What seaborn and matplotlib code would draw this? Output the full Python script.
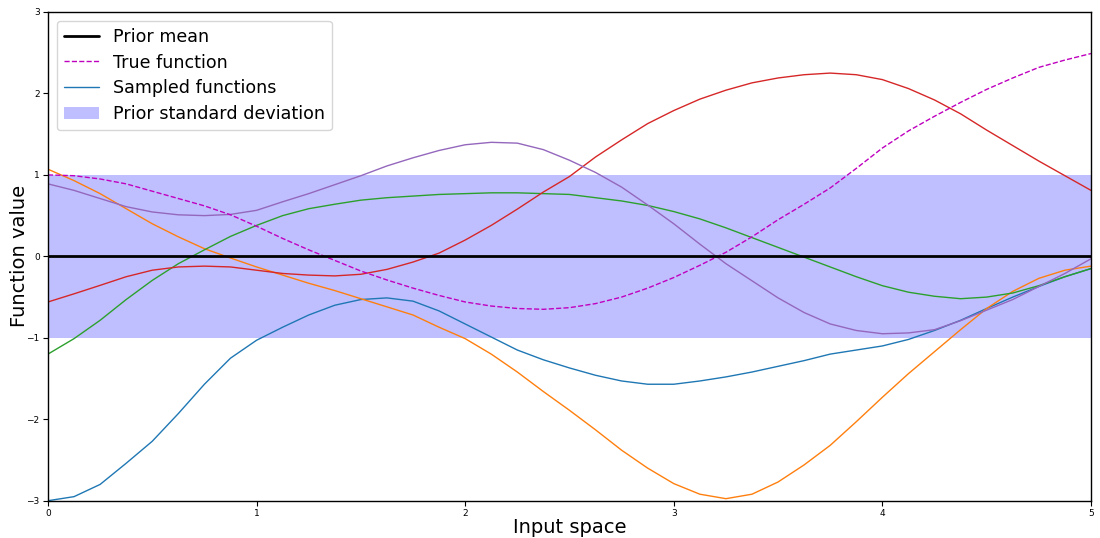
import numpy as np
import pandas as pd
import matplotlib
matplotlib.use("Agg")
import matplotlib.pyplot as plt
import seaborn as sns
from matplotlib.lines import Line2D
from matplotlib.patches import Patch

x_vals = [0.0, 0.125, 0.25, 0.375, 0.5, 0.625, 0.75, 0.875, 1.0, 1.125,
          1.25, 1.375, 1.5, 1.625, 1.75, 1.875, 2.0, 2.125, 2.25, 2.375,
          2.5, 2.625, 2.75, 2.875, 3.0, 3.125, 3.25, 3.375, 3.5, 3.625,
          3.75, 3.875, 4.0, 4.125, 4.25, 4.375, 4.5, 4.625, 4.75, 4.875, 5.0]

true_function = [1.0, 0.99, 0.95, 0.89, 0.80, 0.71, 0.62, 0.51, 0.37, 0.22,
                 0.08, -0.05, -0.18, -0.29, -0.39, -0.48, -0.56, -0.61, -0.64, -0.65,
                 -0.63, -0.58, -0.50, -0.39, -0.26, -0.11, 0.05, 0.24, 0.45, 0.64,
                 0.84, 1.08, 1.33, 1.54, 1.72, 1.89, 2.05, 2.19, 2.32, 2.41, 2.49]

sample_1 = [-3.0, -2.95, -2.80, -2.54, -2.27, -1.93, -1.57, -1.25, -1.03, -0.87,
            -0.72, -0.60, -0.53, -0.51, -0.55, -0.67, -0.83, -0.99, -1.15, -1.27,
            -1.37, -1.46, -1.53, -1.57, -1.57, -1.53, -1.48, -1.42, -1.35, -1.28,
            -1.20, -1.15, -1.10, -1.02, -0.91, -0.785, -0.64, -0.50, -0.37, -0.25, -0.15]
sample_2 = [1.07, 0.93, 0.77, 0.585, 0.40, 0.24, 0.094, -0.02, -0.13, -0.23,
            -0.33, -0.42, -0.52, -0.62, -0.72, -0.87, -1.01, -1.20, -1.42, -1.66,
            -1.89, -2.13, -2.38, -2.60, -2.79, -2.92, -2.975, -2.92, -2.77, -2.56,
            -2.32, -2.03, -1.73, -1.44, -1.17, -0.90, -0.64, -0.43, -0.27, -0.17, -0.12]
sample_3 = [-1.20, -1.01, -0.785, -0.53, -0.295, -0.09, 0.08, 0.245, 0.38, 0.50,
            0.585, 0.64, 0.69, 0.72, 0.74, 0.76, 0.77, 0.78, 0.78, 0.77,
            0.76, 0.72, 0.68, 0.625, 0.55, 0.46, 0.35, 0.23, 0.11, -0.01,
            -0.13, -0.25, -0.36, -0.44, -0.49, -0.52, -0.50, -0.45, -0.36, -0.25, -0.15]
sample_4 = [-0.56, -0.46, -0.356, -0.25, -0.17, -0.13, -0.12, -0.13, -0.17, -0.21,
            -0.23, -0.24, -0.22, -0.16, -0.07, 0.04, 0.20, 0.38, 0.58, 0.79,
            0.98, 1.22, 1.43, 1.63, 1.79, 1.93, 2.04, 2.13, 2.19, 2.23,
            2.25, 2.23, 2.17, 2.06, 1.92, 1.75, 1.55, 1.36, 1.17, 0.99, 0.81]
sample_5 = [0.89, 0.81, 0.71, 0.61, 0.545, 0.51, 0.50, 0.515, 0.565, 0.67,
            0.77, 0.88, 0.99, 1.11, 1.21, 1.30, 1.37, 1.40, 1.39, 1.31,
            1.18, 1.03, 0.85, 0.63, 0.40, 0.15, -0.09, -0.30, -0.51, -0.69,
            -0.83, -0.91, -0.95, -0.94, -0.90, -0.79, -0.66, -0.53, -0.37, -0.21, -0.03]

prior_mean = [0.0] * len(x_vals)
prior_std = [1.0] * len(x_vals)

legend_labels = ["Prior mean", "True function", "Sampled functions", "Prior standard deviation"]

sns.set_style("ticks")
plt.rcParams['font.family'] = ['DejaVu Sans']
plt.rcParams['text.color'] = 'black'
plt.rcParams['axes.labelcolor'] = 'black'
plt.rcParams['xtick.color'] = 'black'
plt.rcParams['ytick.color'] = 'black'

fig = plt.figure(figsize=(11, 5.38), dpi=100)
ax = fig.add_axes([0.0436, 0.0693, 0.9482, 0.9084])

xs = np.array(x_vals)
mean = np.array(prior_mean)
std = np.array(prior_std)
ax.fill_between(xs, mean - std, mean + std, color="b", alpha=0.25, linewidth=0)

samples = [sample_1, sample_2, sample_3, sample_4, sample_5]
df = pd.DataFrame({
    "x": np.tile(xs, len(samples)),
    "y": np.concatenate([np.array(s) for s in samples]),
    "sample": np.repeat([f"s{i}" for i in range(len(samples))], len(xs)),
})
palette = sns.color_palette("tab10", len(samples))
sns.lineplot(data=df, x="x", y="y", hue="sample", palette=palette, linewidth=1.0,
             ax=ax, legend=False, sort=False, estimator=None)

sns.lineplot(x=xs, y=np.array(true_function), color="m", linestyle="--", linewidth=1.0, ax=ax)
sns.lineplot(x=xs, y=mean, color="k", linewidth=2.0, ax=ax)

ax.set_xlim(0, 5)
ax.set_ylim(-3, 3)
ax.set_xticks([0, 1, 2, 3, 4, 5])
ax.set_yticks([-3, -2, -1, 0, 1, 2, 3])
ax.tick_params(labelsize=6.5, length=3.5, width=0.8, color="k", direction="out", pad=2.5)
for sp in ax.spines.values():
    sp.set_color("k")
    sp.set_linewidth(1.0)
ax.set_xlabel("Input space", fontsize=14, labelpad=0)
ax.set_ylabel("Function value", fontsize=14, labelpad=-2)

handles = [
    Line2D([0], [0], color="k", linewidth=2.0),
    Line2D([0], [0], color="m", linestyle="--", linewidth=1.0),
    Line2D([0], [0], color=palette[0], linewidth=1.0),
    Patch(facecolor="b", alpha=0.25, edgecolor="none"),
]
ax.legend(handles, legend_labels, loc="upper left", fontsize=12.6, frameon=True,
          framealpha=0.8, edgecolor="#cccccc", fancybox=True, labelspacing=0.45,
          labelcolor="black")

fig.savefig("out.png", dpi=100)
